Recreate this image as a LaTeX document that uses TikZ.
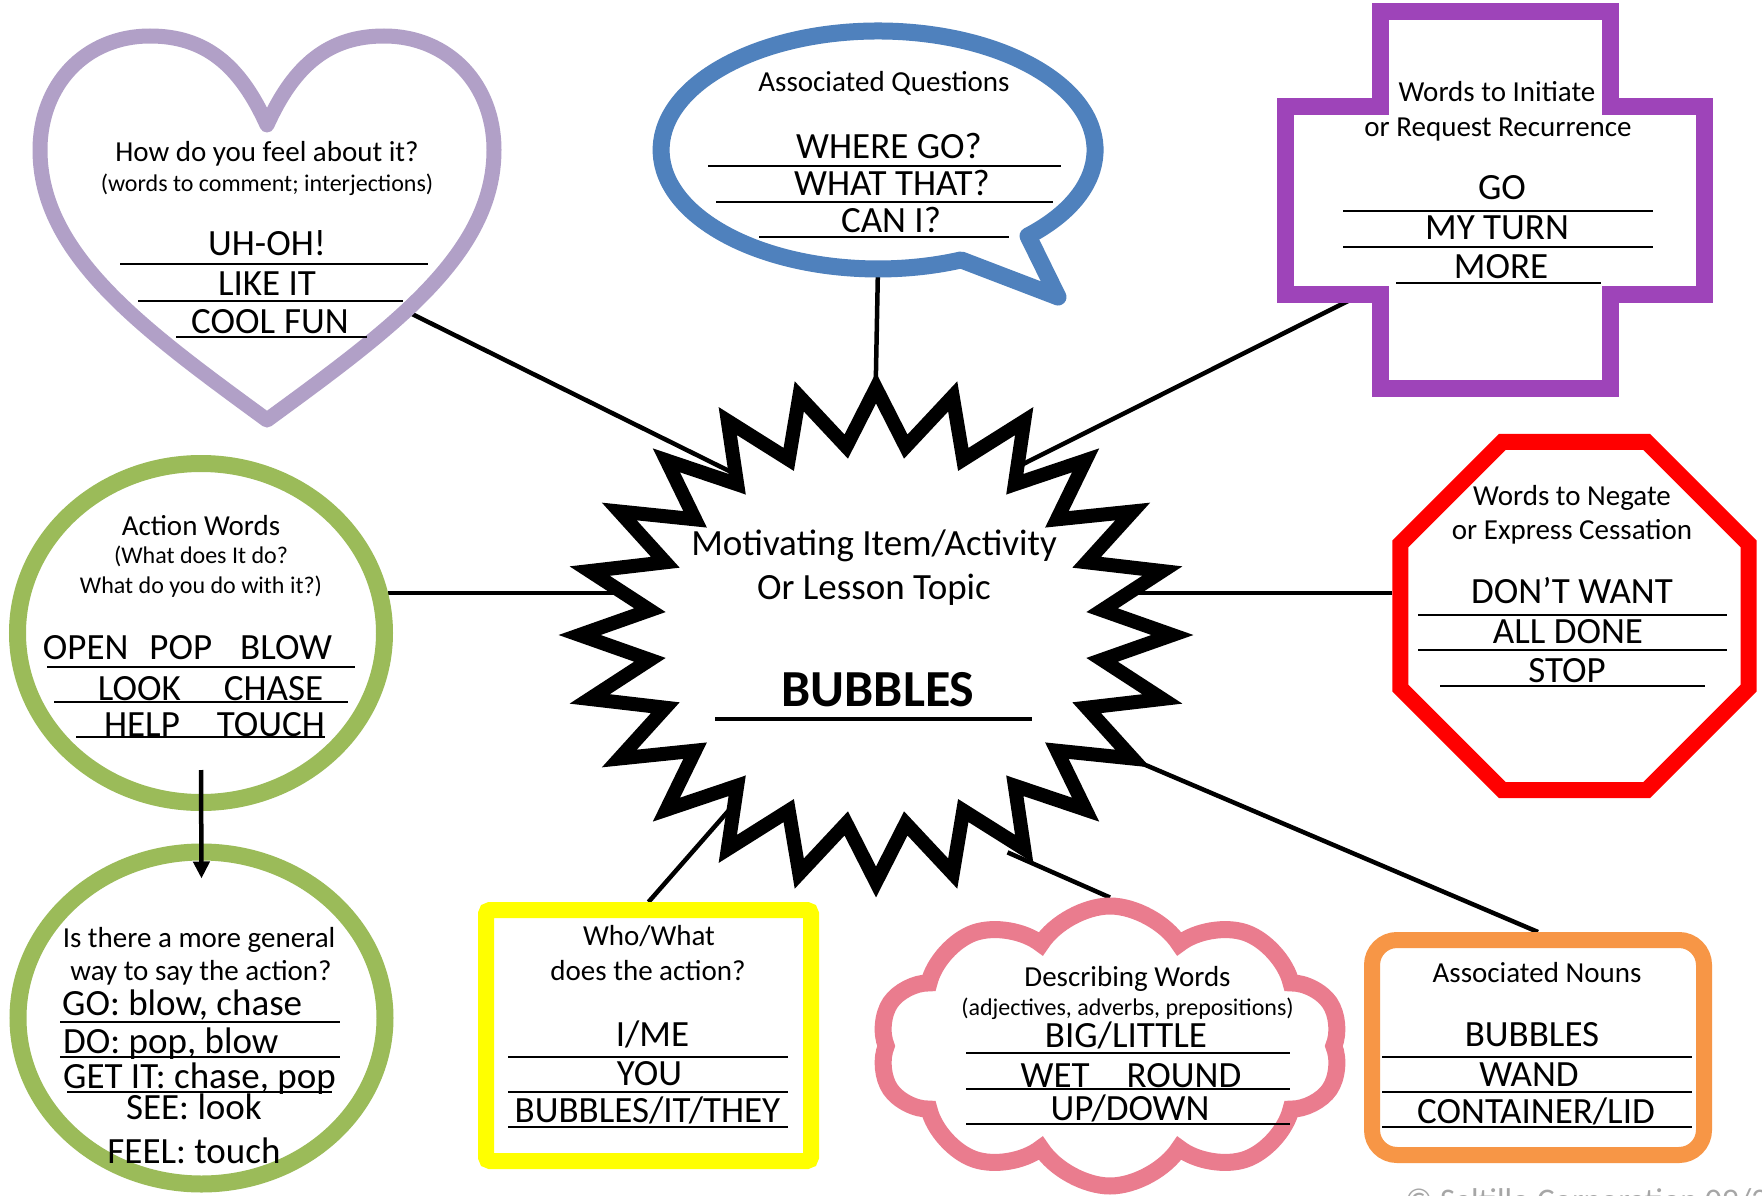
\documentclass[tikz,border=0pt]{standalone}
\usepackage{fontspec}
\setmainfont{Carlito}
\usetikzlibrary{arrows.meta,shapes.geometric,shapes.symbols}
\definecolor{heartlilac}{RGB}{177,160,199}
\definecolor{askblue}{RGB}{79,129,189}
\definecolor{crossplum}{RGB}{158,68,185}
\definecolor{actgreen}{RGB}{155,187,89}
\definecolor{stopred}{RGB}{255,0,0}
\definecolor{whoyellow}{RGB}{255,255,0}
\definecolor{cloudpink}{RGB}{234,124,142}
\definecolor{nounorange}{RGB}{247,150,70}
\pgfdeclarelayer{background}
\pgfsetlayers{background,main}
\tikzset{%
	panel/.style = {fill=white, line width=16pt}, % coloured frame
	head/.style  = {anchor=base, inner sep=0pt, font=\fontsize{29}{29}\selectfont},
	note/.style  = {anchor=base, inner sep=0pt, font=\fontsize{24}{24}\selectfont},
	word/.style  = {anchor=base, inner sep=0pt, font=\fontsize{37}{37}\selectfont},
	blank/.style = {line width=1.6pt}, % line under a word
	link/.style  = {line width=4.5pt, shorten >=-30pt},
	burst/.style = {star, star points=24, star point ratio=1.3, minimum size=494, inner sep=0pt,
		xscale=1.2, transform shape, draw, fill=white, line width=14pt, line join=miter},
}

\begin{document}
\begin{tikzpicture}[x=1pt,y=-1pt]
	\begin{pgfonlayer}{background}
		\fill[white] (0,0) rectangle (1762,1196);
	\end{pgfonlayer}
	\useasboundingbox (0,0) rectangle (1762,1196);

	% heart
	\draw[panel, draw=heartlilac, line width=15pt, line join=round] (267,125) .. controls (240,65) and (205,36) .. (150,36)
		.. controls (85,36) and (40,85) .. (40,150) .. controls (40,255) and (144,330) .. (267,420)
		.. controls (390,330) and (494,255) .. (494,150) .. controls (494,85) and (449,36) .. (384,36)
		.. controls (329,36) and (294,65) .. (267,125) -- cycle;
	\coordinate (feel-pin) at (408,312);
	\node[head] (feel-head) at (267,161) {How do you feel about it?};
	\node[note] (feel-note) at (267,191) {(words to comment; interjections)};
	\node[word] (feel1) at (267,255) {UH-OH!};
	\draw[blank] (120,264) -- (428,264);
	\node[word] (feel2) at (267,295) {LIKE IT};
	\draw[blank] (138,301) -- (403,301);
	\node[word] (feel3) at (270,333) {COOL\hspace{9pt}FUN};
	\draw[blank] (176,337) -- (367,337);

	% speech bubble
	\draw[panel, draw=askblue, line width=17pt, line join=round] (1028,236)
		arc[start angle=46.3, end angle=-292.5, x radius=217, y radius=119] -- (1058,297) -- cycle;
	\coordinate (ask-pin) at (878,266);
	\node[head] (ask-head) at (884,92) {Associated Questions};
	\node[word] (ask1) at (889,159) {WHERE GO?};
	\draw[blank] (708,166) -- (1061,166);
	\node[word] (ask2) at (892,196) {WHAT THAT?};
	\draw[blank] (716,202) -- (1053,202);
	\node[word] (ask3) at (891,232) {CAN I?};
	\draw[blank] (759,237) -- (1009,237);

	% cross
	\draw[panel, draw=crossplum, line width=17pt, line join=miter] (1380,12) -- (1610,12) -- (1610,107) -- (1704,107)
		-- (1704,294) -- (1610,294) -- (1610,388) -- (1380,388) -- (1380,294) -- (1285,294) -- (1285,107) -- (1380,107) -- cycle;
	\coordinate (again-pin) at (1350,300);
	\node[head] (again-head1) at (1497,102) {Words to Initiate};
	\node[head] (again-head2) at (1498,137) {or Request Recurrence};
	\node[word] (again1) at (1502,199) {GO};
	\draw[blank] (1343,211) -- (1653,211);
	\node[word] (again2) at (1497,239) {MY TURN};
	\draw[blank] (1343,247) -- (1653,247);
	\node[word] (again3) at (1501,278) {MORE};
	\draw[blank] (1396,283) -- (1601,283);

	% stop sign
	\node[panel, draw=stopred, regular polygon, regular polygon sides=8, minimum size=377, inner sep=0pt] (stop) at (1574.5,616) {};
	\coordinate (stop-pin) at ([yshift=23pt]stop.west);
	\node[head] (stop-head1) at (1572,505) {Words to Negate};
	\node[head] (stop-head2) at (1572,539) {or Express Cessation};
	\node[word] (stop1) at (1572,603) {DON’T WANT};
	\draw[blank] (1418,615) -- (1727,615);
	\node[word] (stop2) at (1568,643) {ALL DONE};
	\draw[blank] (1418,650) -- (1727,650);
	\node[word] (stop3) at (1567,682) {STOP};
	\draw[blank] (1440,686) -- (1705,686);

	% action words
	\node[panel, draw=actgreen, line width=17pt, ellipse, minimum width=367, minimum height=339, inner sep=0pt] (action) at (201,633) {};
	\node[head] (action-head) at (201,535) {Action Words};
	\node[note] (action-note1) at (201,563) {(What does It do?};
	\node[note] (action-note2) at (201,593) {What do you do with it?)};
	\node[word] (action1) at (187.5,659) {OPEN\hspace{21pt}POP\hspace{28pt}BLOW};
	\draw[blank] (47,667) -- (355,667);
	\node[word] (action2) at (210.5,700) {LOOK\hspace{43pt}CHASE};
	\draw[blank] (54,702) -- (348,702);
	\node[word] (action3) at (214.5,736) {HELP\hspace{37pt}TOUCH};
	\draw[blank] (76,737) -- (325,737);

	% general verbs
	\node[panel, draw=actgreen, line width=17pt, ellipse, minimum width=367, minimum height=332, inner sep=0pt] (general) at (201.5,1018) {};
	\node[head] (general-head1) at (199,947) {Is there a more general};
	\node[head] (general-head2) at (201,980) {way to say the action?};
	\node[word, anchor=base west] (general1) at (62,1015) {GO: blow, chase};
	\draw[blank] (60,1022) -- (340,1022);
	\node[word, anchor=base west] (general2) at (63,1053) {DO: pop, blow};
	\draw[blank] (60,1057) -- (340,1057);
	\node[word, anchor=base west] (general3) at (63,1088) {GET IT: chase, pop};
	\draw[blank] (67,1092) -- (332,1092);
	\node[word] (general4) at (194,1119) {SEE: look};
	\node[word] (general5) at (194,1163) {FEEL: touch};
	\draw[link, shorten >=0pt, -{Triangle[length=17pt,width=16pt]}] ([yshift=41pt]action.south) -- ([yshift=-35pt]general.north);

	% who / what
	\node[panel, draw=whoyellow, rounded corners=4pt, minimum width=325, minimum height=251] (who) at (648.5,1035.5) {};
	\node[head] (who-head1) at (649,945) {Who/What};
	\node[head] (who-head2) at (648,980) {does the action?};
	\node[word] (who1) at (652.5,1046) {I/ME};
	\draw[blank] (508,1057) -- (788,1057);
	\node[word] (who2) at (649.5,1085) {YOU};
	\draw[blank] (508,1092) -- (788,1092);
	\node[word] (who3) at (647.5,1122) {BUBBLES/IT/THEY};
	\draw[blank] (508,1127) -- (788,1127);

	% describing words
	\node[panel, draw=cloudpink, line width=17pt, cloud, cloud puffs=10, cloud puff arc=115, cloud ignores aspect,
		minimum width=462, minimum height=280, inner sep=0pt] (describe) at (1110,1046) {};
	\node[head] (describe-head) at (1127.5,986) {Describing Words};
	\node[note] (describe-note) at (1127.5,1015) {(adjectives, adverbs, prepositions)};
	\node[word] (describe1) at (1126,1047) {BIG/LITTLE};
	\draw[blank] (966,1053) -- (1290,1053);
	\node[word] (describe2) at (1131,1087) {WET\hspace{37pt}ROUND};
	\draw[blank] (966,1089) -- (1290,1089);
	\node[word] (describe3) at (1130,1120) {UP/DOWN};
	\draw[blank] (966,1124) -- (1290,1124);

	% associated nouns
	\node[panel, draw=nounorange, rounded corners=25pt, minimum width=332, minimum height=215] (nouns) at (1538,1047.5) {};
	\node[head] (nouns-head) at (1537,982) {Associated Nouns};
	\node[word] (nouns1) at (1532,1046) {BUBBLES};
	\draw[blank] (1382,1057) -- (1692,1057);
	\node[word] (nouns2) at (1529,1086) {WAND};
	\draw[blank] (1382,1092) -- (1692,1092);
	\node[word] (nouns3) at (1536,1123) {CONTAINER/LID};
	\draw[blank] (1382,1127) -- (1692,1127);

	% topic in the middle
	\node[burst] (topic) at (876,635) {};
	\node[word] (topic1) at (874,555) {Motivating Item/Activity};
	\node[word] (topic2) at (874,599) {Or Lesson Topic};
	\node[word, font=\fontsize{52}{52}\selectfont\bfseries] (topic3) at (878,706) {BUBBLES};
	\draw[line width=4.5pt] (715,719) -- (1032,719);

	\begin{pgfonlayer}{background}
		\draw[link] (feel-pin) -- (topic.127);
		\draw[link] (ask-pin) -- (topic.north);
		\draw[link] (again-pin) -- (topic.54);
		\draw[link] (action.12) -- (action.12 -| topic.center);
		\draw[link] (stop-pin) -- (stop-pin -| topic.center);
		\draw[link] (who.north) -- (topic.235);
		\draw[link] (describe.north) -- (topic.300);
		\draw[link] (nouns.north) -- (topic.330);
	\end{pgfonlayer}

	\node[anchor=base west, inner sep=0pt, text=black!35, font=\fontsize{33}{33}\selectfont] (credit) at (1405,1211) {© Saltillo Corporation 09/2};
\end{tikzpicture}
\end{document}
